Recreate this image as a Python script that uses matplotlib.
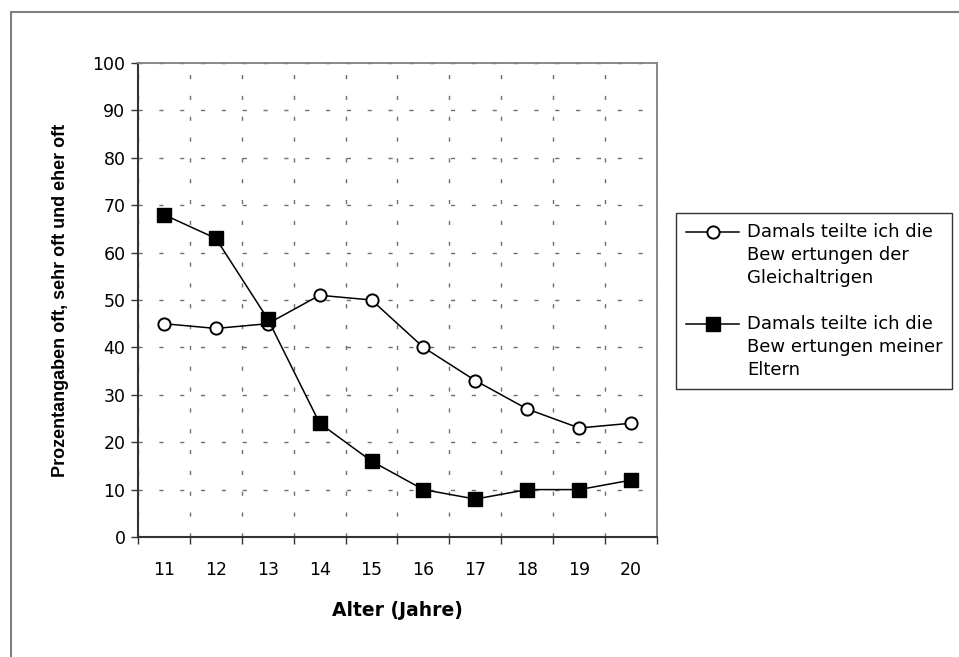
import numpy as np
import matplotlib.pyplot as plt
from matplotlib.patches import Rectangle
from matplotlib.legend_handler import HandlerLine2D

plt.rcParams['font.family'] = ['DejaVu Sans']

# Alter in Jahren
alter = ["11", "12", "13", "14", "15", "16", "17", "18", "19", "20"]

# Prozentangaben oft / sehr oft / eher oft
gleichaltrige = [45, 44, 45, 51, 50, 40, 33, 27, 23, 24]
eltern = [68, 63, 46, 24, 16, 10, 8, 10, 10, 12]

label_peers = "Damals teilte ich die\nBew ertungen der\nGleichaltrigen"
label_eltern = "Damals teilte ich die\nBew ertungen meiner\nEltern"

FS = 12.5
LEG_FS = 13
LINESPACING = 1.33


class FirstLineHandler(HandlerLine2D):
    # Symbol auf Höhe der ersten Textzeile statt mittig
    def create_artists(self, legend, orig_handle, xdescent, ydescent,
                       width, height, fontsize, trans):
        shift = 2 * LINESPACING * fontsize
        return super().create_artists(legend, orig_handle, xdescent,
                                      ydescent - shift, width, height,
                                      fontsize, trans)


fig = plt.figure(figsize=(9.59, 6.57), dpi=100)

# Rahmen um das Diagramm
fig.patches.append(Rectangle((11 / 959, -0.1), 1.2, 1 - 12 / 657 + 0.1,
                             transform=fig.transFigure, fill=False,
                             edgecolor='#808080', lw=1.5))

ax = fig.add_axes([138 / 959, 1 - 537 / 657, (657 - 138) / 959, (537 - 63) / 657])

x = np.arange(len(alter))
ax.plot(x, gleichaltrige, color='black', lw=1.1, marker='o', ms=8.8,
        mfc='white', mec='black', mew=1.4, label=label_peers, zorder=3)
ax.plot(x, eltern, color='black', lw=1.1, marker='s', ms=9.6,
        mfc='black', mec='black', label=label_eltern, zorder=4)

ax.set_xlim(-0.5, len(alter) - 0.5)
ax.set_ylim(0, 100)
ax.set_yticks(np.arange(0, 101, 10))

# Kategorienachse: Striche zwischen den Kategorien, Beschriftung mittig
ax.set_xticks(np.arange(-0.5, len(alter), 1))
ax.set_xticklabels([])
ax.set_xticks(x, minor=True)
ax.set_xticklabels(alter, minor=True)
ax.tick_params(axis='x', which='minor', length=0, pad=17, labelsize=FS)
ax.tick_params(axis='x', which='major', length=5, width=1, color='#333333')
ax.tick_params(axis='y', length=5, width=1, color='#333333', pad=4, labelsize=FS)

grid_style = dict(color='#707070', lw=1, linestyle=(0, (3, 12)))
ax.grid(True, axis='y', **grid_style)
ax.grid(True, axis='x', which='major', **grid_style)

for side in ['left', 'bottom']:
    ax.spines[side].set_color('#333333')
    ax.spines[side].set_linewidth(1.5)
for side in ['top', 'right']:
    ax.spines[side].set_color('#808080')
    ax.spines[side].set_linewidth(1.3)

ax.set_xlabel("Alter (Jahre)", fontsize=13.5, fontweight='bold', labelpad=16)
ax.set_ylabel("Prozentangaben oft, sehr oft und eher oft", fontsize=13,
              fontweight='bold', family=['Liberation Sans', 'DejaVu Sans'],
              labelpad=17)

leg = ax.legend(loc='center left', bbox_to_anchor=(676 / 959, 1 - 301 / 657),
                bbox_transform=fig.transFigure, fontsize=LEG_FS, frameon=True,
                fancybox=False, handlelength=2.95, handletextpad=0.42,
                borderpad=0.55, labelspacing=1.6, borderaxespad=0,
                handler_map={plt.Line2D: FirstLineHandler()})
for t in leg.get_texts():
    t.set_linespacing(LINESPACING)
leg.get_frame().set_edgecolor('black')
leg.get_frame().set_linewidth(1)

fig.savefig("out.png", dpi=100)
